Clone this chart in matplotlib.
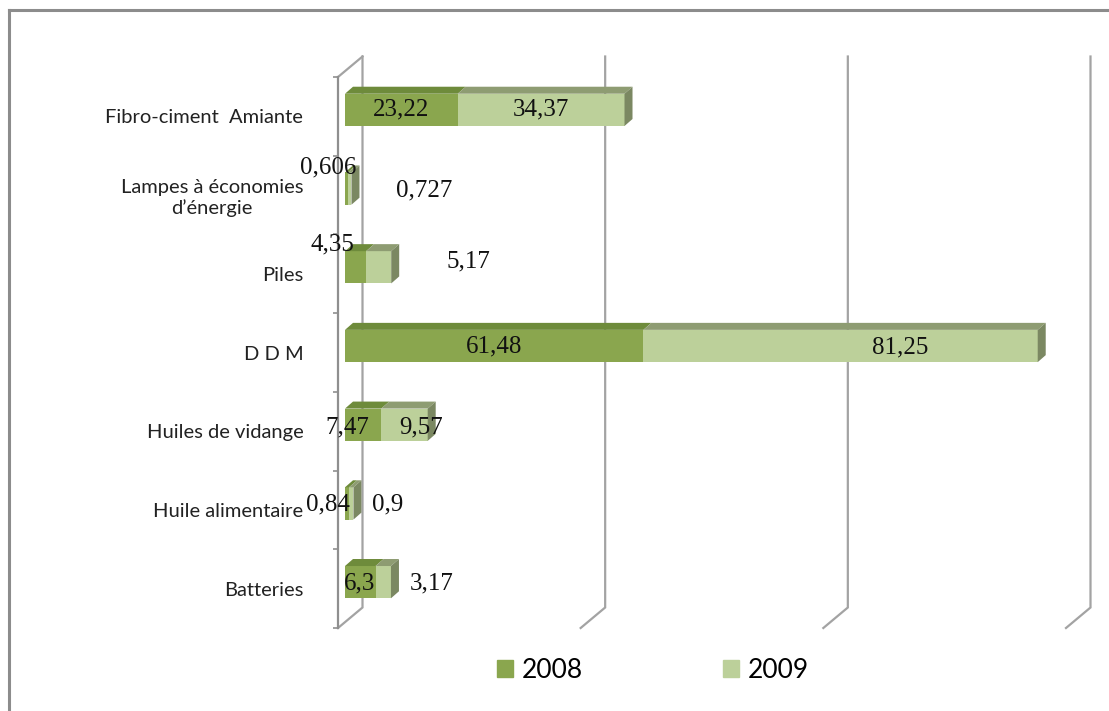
import matplotlib
matplotlib.use('Agg')
import matplotlib.pyplot as plt
from matplotlib.patches import Polygon, Patch
from matplotlib.lines import Line2D

# data
categories = ['Fibro-ciment  Amiante', 'Lampes à économies\nd’énergie', 'Piles', 'D D M',
              'Huiles de vidange', 'Huile alimentaire', 'Batteries']
v2008 = [23.22, 0.606, 4.35, 61.48, 7.47, 0.84, 6.3]
v2009 = [34.37, 0.727, 5.17, 81.25, 9.57, 0.9, 3.17]
series = ['2008', '2009']
grid_vals = [0, 50, 100, 150]

# label placement overrides (value-axis x, pixel shift y); None = centre of segment
pos_2008 = [None, (-2.06, -28), (-1.24, -29), None, (1.85, -4), (-2.06, -5), (4.5, -5.6)]
pos_2009 = [None, (17.7, -5), (26.8, -12), (115.8, -5.5), (17.1, -4), (10.3, -5), (19.4, -5.6)]

# colours
C08, C08_TOP = '#8aa64e', '#6e8b3b'
C09, C09_TOP = '#bcd09a', '#8e9c72'
SIDE = '#7b8862'
GRID = '#a3a3a3'
AXC = '#8f8f8f'

W, H = 1109, 711
fig = plt.figure(figsize=(W / 100, H / 100), dpi=100)
fig.patch.set_facecolor('white')

# outer frame (only top and left visible in the source)
fig.add_artist(Line2D([9 / W, 9 / W], [0, 1 - 10 / H], color='#8c8c8c', lw=2.2,
                      transform=fig.transFigure))
fig.add_artist(Line2D([9 / W, 1], [1 - 10 / H, 1 - 10 / H], color='#8c8c8c', lw=2.2,
                      transform=fig.transFigure))

# axes = front plane of the 3d box
x0px, x1px, ytop, ybot = 338, 1066, 77, 628
ax = fig.add_axes([x0px / W, (H - ybot) / H, (x1px - x0px) / W, (ybot - ytop) / H])
ax.set_xlim(0, 150)
ax.set_ylim(len(categories) - 0.5, -0.5)
XU = 150 / (x1px - x0px)               # value units per pixel
YU = len(categories) / (ybot - ytop)   # category units per pixel (down = +)

WALL = (24.5, -20.5)   # back wall offset, px
B0 = (7, -6.5)         # bar front face offset, px
DEPTH = (8, -7)        # bar depth, px
BH = 0.41

# back wall gridlines + floor diagonals
y_lo, y_hi = -0.5, len(categories) - 0.5
for g in grid_vals:
    xb = g + WALL[0] * XU
    ax.plot([xb, xb, g], [y_lo + WALL[1] * YU, y_hi + WALL[1] * YU, y_hi],
            color=GRID, lw=1.6, zorder=1, clip_on=False, solid_joinstyle='miter')
ax.plot([0, WALL[0] * XU], [y_lo, y_lo + WALL[1] * YU], color=GRID, lw=1.6,
        zorder=1, clip_on=False)

# bars
for i in range(len(categories)):
    yc = i + B0[1] * YU
    yt, yb = yc - BH / 2, yc + BH / 2
    dx, dy = DEPTH[0] * XU, DEPTH[1] * YU
    left = B0[0] * XU
    for val, front, top in [(v2008[i], C08, C08_TOP), (v2009[i], C09, C09_TOP)]:
        ax.barh(yc, val, left=left, height=BH, color=front, zorder=3)
        ax.add_patch(Polygon([(left, yt), (left + val, yt), (left + val + dx, yt + dy),
                              (left + dx, yt + dy)], closed=True, fc=top, ec='none',
                             zorder=3))
        left += val
    ax.add_patch(Polygon([(left, yt), (left + dx, yt + dy), (left + dx, yb + dy),
                          (left, yb)], closed=True, fc=SIDE, ec='none', zorder=3))

# data labels
num_font = dict(family=['Liberation Serif', 'DejaVu Serif'], size=18, color='#111111')
for i in range(len(categories)):
    starts = [0, v2008[i]]
    for k, (vals, pos) in enumerate([(v2008, pos_2008), (v2009, pos_2009)]):
        txt = str(vals[i]).replace('.', ',')
        if pos[i] is None:
            x = B0[0] * XU + starts[k] + vals[i] / 2
            y = i + B0[1] * YU
        else:
            x = pos[i][0]
            y = i + pos[i][1] * YU
        ax.text(x, y, txt, ha='center', va='center', zorder=5, clip_on=False, **num_font)

# category axis
for s in ['top', 'right', 'bottom']:
    ax.spines[s].set_visible(False)
ax.spines['left'].set_color(AXC)
ax.spines['left'].set_linewidth(1.6)
ax.set_xticks([])
ax.set_yticks(range(len(categories)))
ax.set_yticklabels(categories, family=['Lato', 'DejaVu Sans'], fontsize=14.5,
                   color='#222222')
for lab in ax.get_yticklabels():
    lab.set_multialignment('center')
ax.set_yticks([k - 0.5 for k in range(len(categories) + 1)], minor=True)
ax.tick_params(axis='y', which='major', length=0, pad=25)
ax.tick_params(axis='y', which='minor', length=3.6, width=1.2, color=AXC)
ax.set_facecolor('none')

# legend
handles = [Patch(color=C08, label=series[0]), Patch(color=C09, label=series[1])]
fig.legend(handles=handles, loc='center', bbox_to_anchor=(653 / W, 1 - 670 / H), ncol=2,
           frameon=False, prop={'family': 'Lato', 'size': 19}, handlelength=0.6,
           handleheight=0.6, handletextpad=0.35, columnspacing=5.3)

fig.savefig('out.png', dpi=100, facecolor='white')
